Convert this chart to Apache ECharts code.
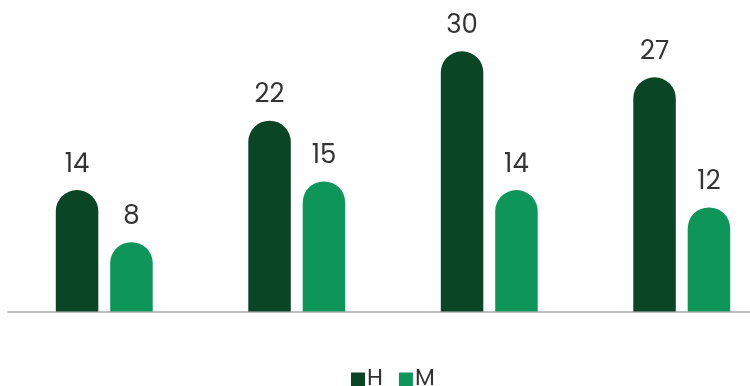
<!DOCTYPE html>
<html><head><meta charset="utf-8">
<script src="https://cdn.jsdelivr.net/npm/echarts@6/dist/echarts.min.js"></script>
<style>html,body{margin:0;padding:0;background:#fff;overflow:hidden;width:750px;height:386px}#c{width:788px;height:386px}</style>
</head><body><div id="c"></div>
<script>
const categories = ['A', 'B', 'C', 'D'];
const seriesH = [14, 22, 30, 27];
const seriesM = [8, 15, 14, 12];
const seriesNames = ['H', 'M'];
const colors = ['#0a4525', '#0e955a'];

const chart = echarts.init(document.getElementById('c'), null, {renderer: 'canvas'});
const font = 'Poppins, "Open Sans", Lato, sans-serif';
const labelStyle = {show: true, position: 'top', distance: 12, color: '#333', fontSize: 26, fontFamily: font};
chart.setOption({
  animation: false,
  backgroundColor: '#fff',
  grid: {left: 8, top: 8, right: 10, bottom: 74.5, containLabel: false, outerBoundsMode: 'none'},
  legend: {
    data: seriesNames, left: 346, top: 363, itemWidth: 14, itemHeight: 14, itemGap: 16,
    icon: 'rect', textStyle: {fontSize: 23, color: '#333', fontFamily: font, padding: [0, 0, 0, -3]}
  },
  xAxis: {
    type: 'category', data: categories,
    axisLine: {show: true, lineStyle: {color: '#aaaaaa', width: 1.5}},
    axisTick: {show: false}, axisLabel: {show: false}
  },
  yAxis: {type: 'value', min: 0, max: 35, show: false, splitLine: {show: false}},
  series: [
    {name: seriesNames[0], type: 'bar', data: seriesH, barWidth: 42.5, barGap: '28%',
     itemStyle: {color: colors[0], borderRadius: [21, 21, 0, 0]}, label: labelStyle},
    {name: seriesNames[1], type: 'bar', data: seriesM, barWidth: 42.5,
     itemStyle: {color: colors[1], borderRadius: [21, 21, 0, 0]}, label: labelStyle}
  ]
});
</script></body></html>
